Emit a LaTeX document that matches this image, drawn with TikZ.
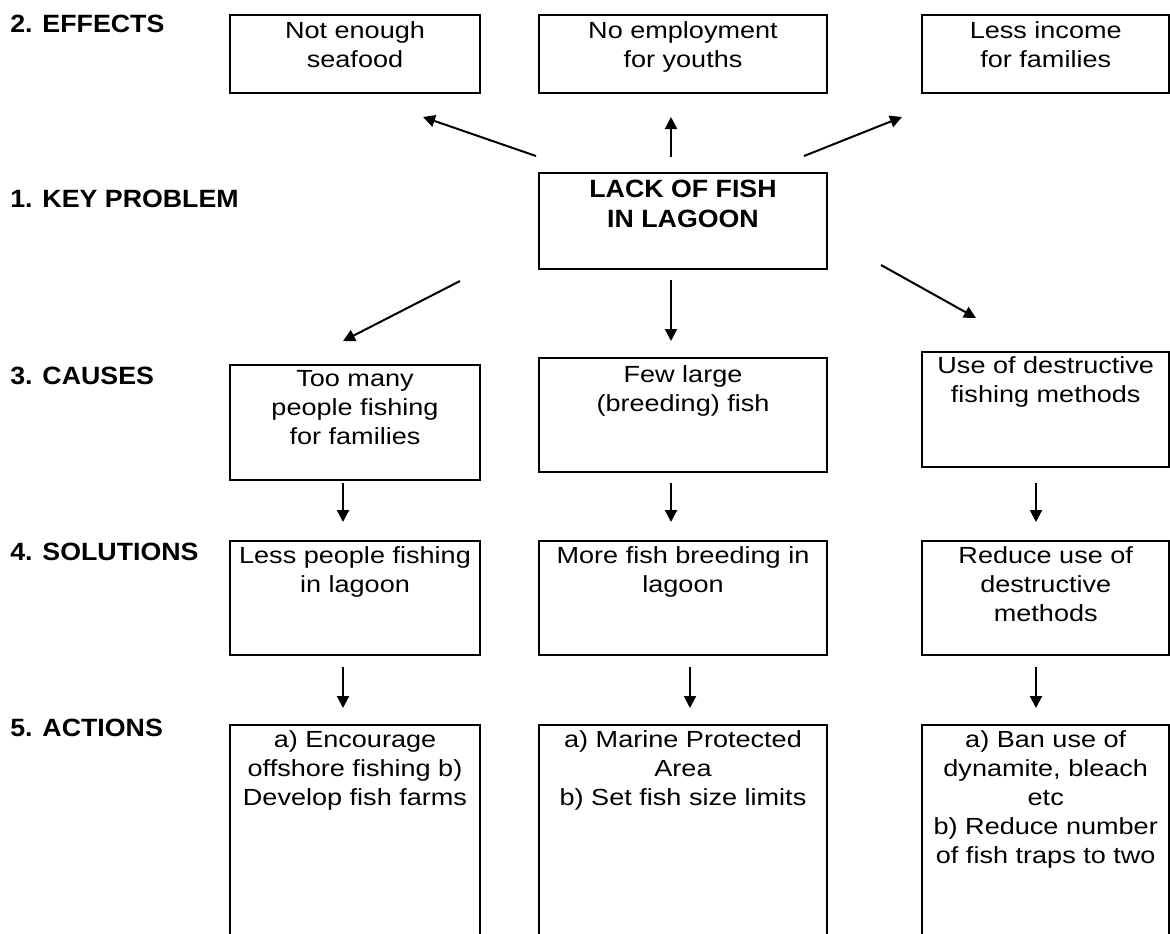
\documentclass[tikz,border=0pt]{standalone}
\usepackage{fontspec}
\setmainfont{Liberation Sans}[FakeStretch=1.16]
\newfontfamily\hdfont{Liberation Sans}[FakeStretch=1.07]
\usetikzlibrary{arrows.meta,positioning}

\tikzset{
  box/.style={draw,line width=1.5pt,anchor=north west,inner sep=0pt},
  colone/.style={minimum width=187.5pt},
  coltwo/.style={minimum width=216pt},
  colthree/.style={minimum width=185.6pt},
  txt/.style={align=center,inner sep=0pt,font=\fontsize{17.5pt}{21.75pt}\selectfont},
  hd/.style={anchor=base west,inner sep=0pt,font=\hdfont\bfseries\fontsize{18.75pt}{22pt}\selectfont},
  arr/.style={->,line width=1.5pt}
}

\begin{document}
\begin{tikzpicture}[x=0.75pt,y=-0.75pt,>={Triangle[length=9pt,width=9pt]}]
  \useasboundingbox (0,0) rectangle (1170,933);
  \clip (0,0) rectangle (1170,933);
  % headings on the left
  \node[hd] (heff) at (10,32) {2. EFFECTS};
  \node[hd] (hkey) at (10,207) {1. KEY PROBLEM};
  \node[hd] (hcau) at (10,384) {3. CAUSES};
  \node[hd] (hsol) at (10,560) {4. SOLUTIONS};
  \node[hd] (hact) at (10,736) {5. ACTIONS};
  % effects
  \node[box,colone,minimum height=58.5pt] (e1) at (229,14) {};
  \node[txt,below=5.3pt of e1.north] (e1t) {Not enough\\seafood};
  \node[box,coltwo,minimum height=58.5pt] (e2) at (538,14) {};
  \node[txt,below=5.3pt of e2.north] (e2t) {No employment\\for youths};
  \node[box,colthree,minimum height=58.5pt] (e3) at (921,14) {};
  \node[txt,below=5.3pt of e3.north] (e3t) {Less income\\for families};
  % key problem
  \node[box,coltwo,minimum height=72pt] (key) at (538,172) {};
  \node[txt,below=6pt of key.north,font=\hdfont\bfseries\fontsize{18.75pt}{22.5pt}\selectfont] (keyt) {LACK OF FISH\\IN LAGOON};
  % causes
  \node[box,colone,minimum height=86.25pt] (c1) at (229,364) {};
  \node[txt,below=5pt of c1.north] (c1t) {Too many\\people fishing\\for families};
  \node[box,coltwo,minimum height=85.5pt] (c2) at (538,357) {};
  \node[txt,below=6.3pt of c2.north] (c2t) {Few large\\(breeding) fish};
  \node[box,colthree,minimum height=86.25pt] (c3) at (921,351) {};
  \node[txt,below=4.3pt of c3.north] (c3t) {Use of destructive\\fishing methods};
  % solutions
  \node[box,colone,minimum height=85.5pt] (s1) at (229,540) {};
  \node[txt,below=5pt of s1.north] (s1t) {Less people fishing\\in lagoon};
  \node[box,coltwo,minimum height=85.5pt] (s2) at (538,540) {};
  \node[txt,below=5pt of s2.north] (s2t) {More fish breeding in\\lagoon};
  \node[box,colthree,minimum height=85.5pt] (s3) at (921,540) {};
  \node[txt,below=5pt of s3.north] (s3t) {Reduce use of\\destructive\\methods};
  % actions (run off the page)
  \node[box,colone,minimum height=172.5pt] (a1) at (229,724) {};
  \node[txt,below=5pt of a1.north] (a1t) {a) Encourage\\offshore fishing b)\\Develop fish farms};
  \node[box,coltwo,minimum height=172.5pt] (a2) at (538,724) {};
  \node[txt,below=5pt of a2.north] (a2t) {a) Marine Protected\\Area\\b) Set fish size limits};
  \node[box,colthree,minimum height=172.5pt] (a3) at (921,724) {};
  \node[txt,below=5pt of a3.north] (a3t) {a) Ban use of\\dynamite, bleach\\etc\\b) Reduce number\\of fish traps to two};
  % arrow ends
  \coordinate (ke1) at (536,156); \coordinate (e1k) at (423,117);
  \coordinate (ke2) at (671,157); \coordinate (e2k) at (671,117);
  \coordinate (ke3) at (804,156); \coordinate (e3k) at (902,117);
  \coordinate (kc1) at (460,281); \coordinate (c1k) at (343,341);
  \coordinate (kc2) at (671,280); \coordinate (c2k) at (671,341);
  \coordinate (kc3) at (881,265); \coordinate (c3k) at (976,318);
  \coordinate (cs1) at (343,483); \coordinate (sc1) at (343,522);
  \coordinate (cs2) at (671,483); \coordinate (sc2) at (671,522);
  \coordinate (cs3) at (1036,483); \coordinate (sc3) at (1036,522);
  \coordinate (sa1) at (343,667); \coordinate (as1) at (343,708);
  \coordinate (sa2) at (690,667); \coordinate (as2) at (690,708);
  \coordinate (sa3) at (1036,667); \coordinate (as3) at (1036,708);
  % arrows
  \draw[arr] (ke1) -- (e1k);
  \draw[arr] (ke2) -- (e2k);
  \draw[arr] (ke3) -- (e3k);
  \draw[arr] (kc1) -- (c1k);
  \draw[arr] (kc2) -- (c2k);
  \draw[arr] (kc3) -- (c3k);
  \draw[arr] (cs1) -- (sc1);
  \draw[arr] (cs2) -- (sc2);
  \draw[arr] (cs3) -- (sc3);
  \draw[arr] (sa1) -- (as1);
  \draw[arr] (sa2) -- (as2);
  \draw[arr] (sa3) -- (as3);
\end{tikzpicture}
\end{document}
